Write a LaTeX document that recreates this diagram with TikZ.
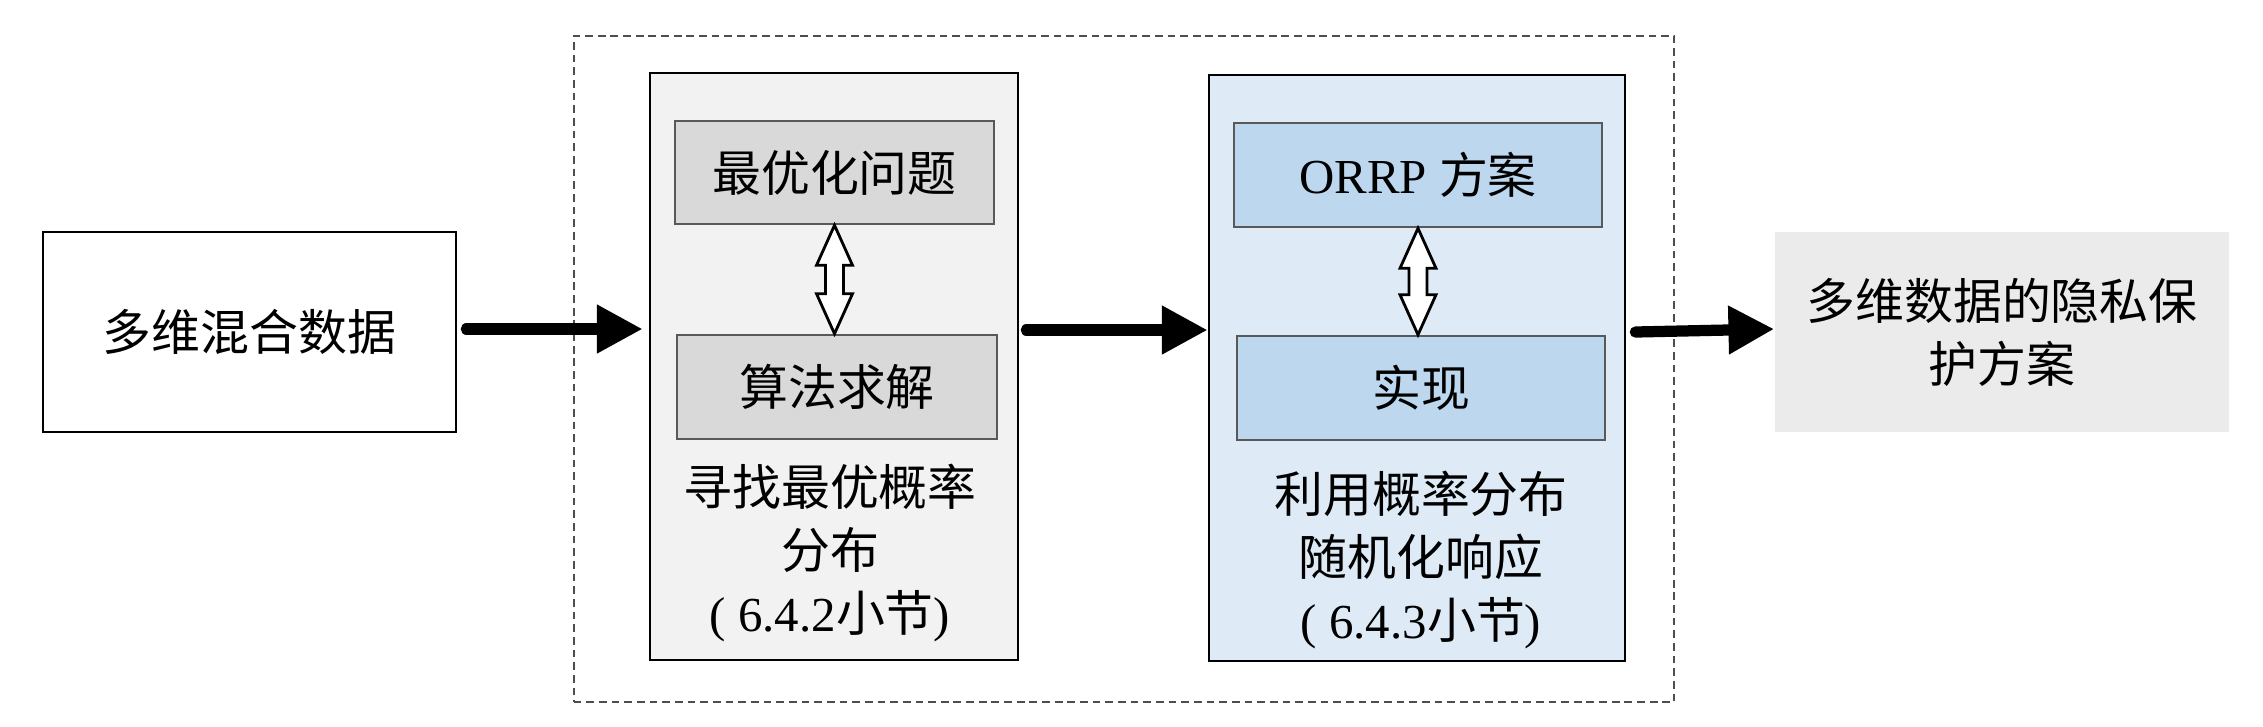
\documentclass[tikz,border=0pt]{standalone}
\usepackage{fontspec}
\setmainfont{Liberation Serif}
\newfontfamily\cjkfont{Noto Sans CJK SC}
\newcommand\zhtext[1]{{\cjkfont #1}}
\usetikzlibrary{arrows.meta,calc}
\definecolor{panelgray}{HTML}{F2F2F2}
\definecolor{innergray}{HTML}{D9D9D9}
\definecolor{panelblue}{HTML}{DEEBF7}
\definecolor{innerblue}{HTML}{BDD7EE}
\definecolor{outgray}{HTML}{EBEBEB}
\definecolor{edgegray}{HTML}{595959}
\definecolor{dashgray}{HTML}{4D4D4D}
\begin{document}
\begin{tikzpicture}[x=0.01cm,y=-0.01cm,
  txt/.style={font=\fontsize{13.9pt}{17.9pt}\selectfont, align=center, inner sep=0pt},
  panel/.style={draw=black, line width=0.7pt, inner sep=0pt},
  innerbox/.style={draw=edgegray, line width=0.7pt, inner sep=0pt, txt},
  flow/.style={line width=3.2pt, line cap=round, -{Triangle[length=13pt,width=13pt]}},
  biarrow/.style={draw=black, fill=white, line width=0.8pt, line join=miter}
]
\useasboundingbox (0,0) rectangle (2263,726);

% dashed group frame
\node[draw=dashgray, dashed, dash pattern=on 2.2pt off 1.4pt, line width=0.5pt,
      minimum width=11.00cm, minimum height=6.66cm, inner sep=0pt] (grp) at (1124,369) {};

% input
\node[panel, minimum width=4.13cm, minimum height=2.00cm, txt] (in) at (249.5,332)
  {\zhtext{多维混合数据}};

% left panel
\node[panel, fill=panelgray, minimum width=3.68cm, minimum height=5.87cm] (p1) at (834,366.5) {};
\node[innerbox, fill=innergray, minimum width=3.19cm, minimum height=1.03cm] (q) at (834.5,172.5)
  {\zhtext{最优化问题}};
\node[innerbox, fill=innergray, minimum width=3.20cm, minimum height=1.04cm] (alg) at (837,387)
  {\zhtext{算法求解}};
\node[txt] (t1) at (830,553)
  {\zhtext{寻找最优概率}\\\zhtext{分布}\\( 6.4.2\zhtext{小节})};

% right panel
\node[panel, fill=panelblue, minimum width=4.16cm, minimum height=5.86cm] (p2) at (1417,368) {};
\node[innerbox, fill=innerblue, minimum width=3.68cm, minimum height=1.04cm] (orrp) at (1418,175)
  {ORRP \zhtext{方案}};
\node[innerbox, fill=innerblue, minimum width=3.68cm, minimum height=1.04cm] (impl) at (1421,388)
  {\zhtext{实现}};
\node[txt] (t2) at (1421,560)
  {\zhtext{利用概率分布}\\\zhtext{随机化响应}\\( 6.4.3\zhtext{小节})};

% output
\node[fill=outgray, minimum width=4.54cm, minimum height=2.00cm, inner sep=0pt, txt] (out) at (2002,332)
  {\zhtext{多维数据的隐私保}\\\zhtext{护方案}};

% flow arrow end points (horizontal, at arrow level)
\coordinate (a1s) at ($(in.east)+(9,-3)$);
\coordinate (a1e) at ($(p1.west |- in.east)+(-6,-3)$);
\coordinate (a2s) at ($(p1.east |- in.east)+(7,-2)$);
\coordinate (a2e) at ($(p2.west |- in.east)+(0,-2)$);
\coordinate (a3s) at ($(p2.east |- in.east)+(9,0)$);
\coordinate (a3e) at ($(out.west)+(0,-3)$);

% flow arrows
\draw[flow] (a1s) -- (a1e);
\draw[flow] (a2s) -- (a2e);
\draw[flow] (a3s) -- (a3e);

% double arrows
\path (q.south) coordinate (da1) (q.south |- alg.north) coordinate (da2);
\draw[biarrow] (da1) -- ++(18,40) -- ++(-9,0) -- ($(da2)+(9,-40)$) -- ++(9,0) -- (da2)
  -- ++(-18,-40) -- ++(9,0) -- ($(da1)+(-9,40)$) -- ++(-9,0) -- cycle;
\path (orrp.south) coordinate (db1) (orrp.south |- impl.north) coordinate (db2);
\draw[biarrow] (db1) -- ++(18,40) -- ++(-9,0) -- ($(db2)+(9,-40)$) -- ++(9,0) -- (db2)
  -- ++(-18,-40) -- ++(9,0) -- ($(db1)+(-9,40)$) -- ++(-9,0) -- cycle;
\end{tikzpicture}
\end{document}
